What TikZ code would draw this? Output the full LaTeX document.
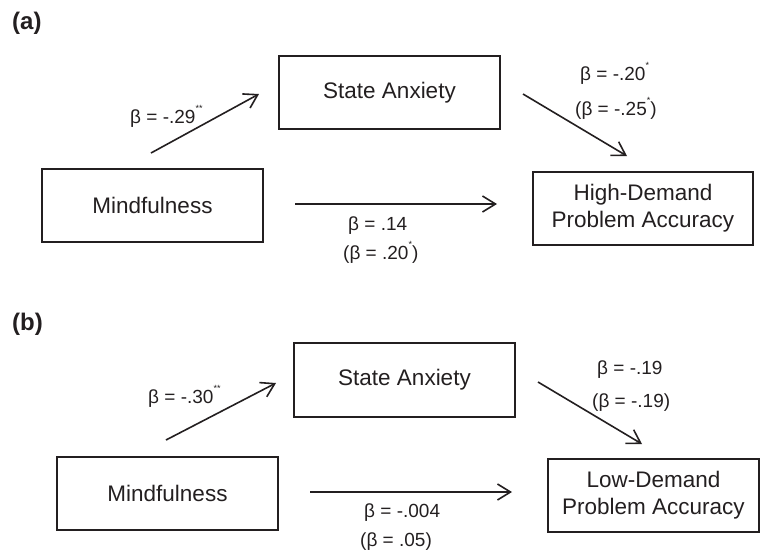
\documentclass[tikz,border=0pt]{standalone}
\usepackage{fontspec}
\setmainfont{Liberation Sans}
\usetikzlibrary{arrows.meta}
\definecolor{ink}{HTML}{231F20}
\newcommand{\sig}[1]{\raisebox{0.6em}{\fontsize{9}{9}\selectfont #1}}
\tikzset{
  varbox/.style={draw=ink, line width=1.3pt, minimum width=221pt, minimum height=73pt, inner sep=0pt,
    align=center, text=ink, font=\fontsize{22.5}{27}\selectfont},
  path/.style={draw=ink, line width=1.6pt, -{Straight Barb[length=13pt,width=16pt,line width=1.6pt]}},
  coef/.style={anchor=base west, inner sep=0pt, text=ink, font=\fontsize{19}{22}\selectfont},
  panel/.style={anchor=base west, inner sep=0pt, text=ink, font=\fontsize{24}{28}\selectfont\bfseries}
}
\begin{document}
\begin{tikzpicture}[x=1pt,y=-1pt]
\useasboundingbox (0,0) rectangle (761,558);
% ---------- panel (a)
\node[panel] (la) at (12,29) {(a)};
\node[varbox] (saA) at (389.5,92.5) {State Anxiety};
\node[varbox] (mA) at (152.5,205.5) {Mindfulness};
\node[varbox, minimum width=220pt] (hd) at (643,208.5) {High-Demand\\Problem Accuracy};
\coordinate (a1s) at (151,153); \coordinate (a1e) at (259,94);
\coordinate (a2s) at (523,94);  \coordinate (a2e) at (627,156);
\coordinate (a3s) at (295,204); \coordinate (a3e) at (497,204);
\draw[path] (a1s) -- (a1e);
\draw[path] (a2s) -- (a2e);
\draw[path] (a3s) -- (a3e);
\node[coef] (ca1) at (130,123) {β = -.29\sig{**}};
\node[coef] (ca2) at (580,80) {β = -.20\sig{*}};
\node[coef] (ca2b) at (575,115) {(β = -.25\sig{*})};
\node[coef] (ca3) at (348,230) {β = .14};
\node[coef] (ca3b) at (343,259) {(β = .20\sig{*})};
% ---------- panel (b)
\node[panel] (lb) at (12,330) {(b)};
\node[varbox, minimum height=74pt] (saB) at (404.5,380) {State Anxiety};
\node[varbox] (mB) at (167.5,493.5) {Mindfulness};
\node[varbox, minimum width=211pt] (ld) at (653.5,495.5) {Low-Demand\\Problem Accuracy};
\coordinate (b1s) at (166,440); \coordinate (b1e) at (276,383);
\coordinate (b2s) at (538,382); \coordinate (b2e) at (642,444);
\coordinate (b3s) at (310,492); \coordinate (b3e) at (512,492);
\draw[path] (b1s) -- (b1e);
\draw[path] (b2s) -- (b2e);
\draw[path] (b3s) -- (b3e);
\node[coef] (cb1) at (148,403) {β = -.30\sig{**}};
\node[coef] (cb2) at (597,374) {β = -.19};
\node[coef] (cb2b) at (592,407) {(β = -.19)};
\node[coef] (cb3) at (364,517) {β = -.004};
\node[coef] (cb3b) at (360,546) {(β = .05)};
\end{tikzpicture}
\end{document}
